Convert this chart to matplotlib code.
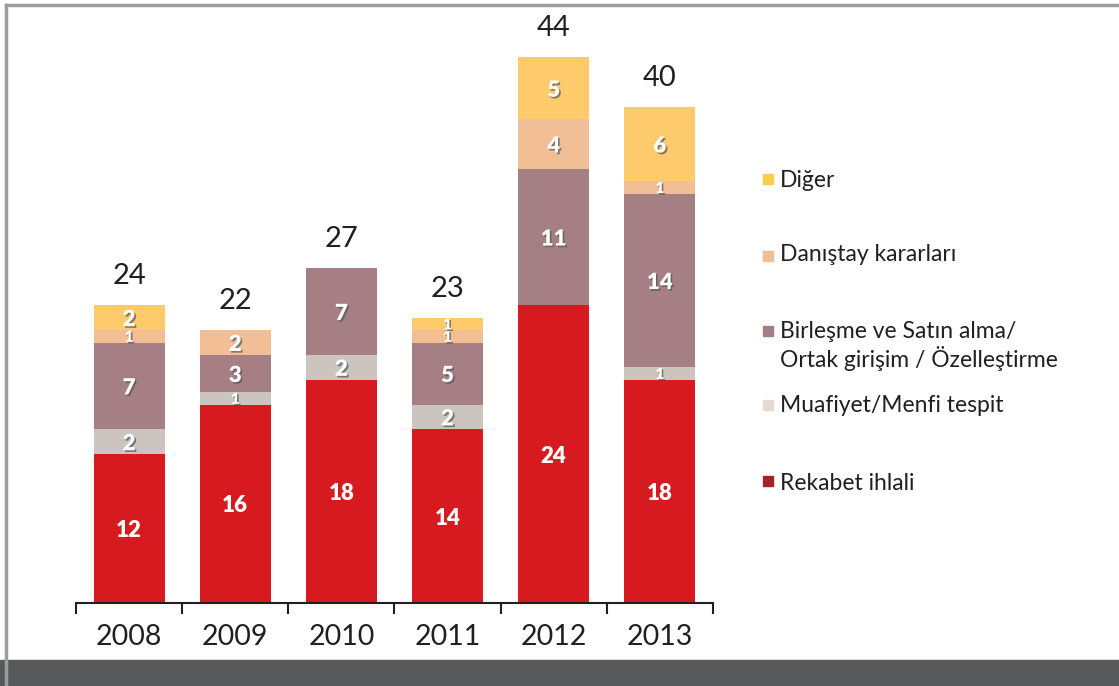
import matplotlib
matplotlib.use("Agg")
import matplotlib.pyplot as plt
import matplotlib.patheffects as pe
from matplotlib.patches import Rectangle
import numpy as np

plt.rcParams['font.family'] = ['Lato', 'DejaVu Sans']

years = ['2008', '2009', '2010', '2011', '2012', '2013']
rekabet = [12, 16, 18, 14, 24, 18]
muafiyet = [2, 1, 2, 2, 0, 1]
birlesme = [7, 3, 7, 5, 11, 14]
danistay = [1, 2, 0, 1, 4, 1]
diger = [2, 0, 0, 1, 5, 6]
totals = [24, 22, 27, 23, 44, 40]

series = [rekabet, muafiyet, birlesme, danistay, diger]
bar_colors = ['#d71920', '#ccc5bf', '#a67f84', '#f2be96', '#fdca6c']

legend_labels = ['Diğer', 'Danıştay kararları',
                 'Birleşme ve Satın alma/\nOrtak girişim / Özelleştirme',
                 'Muafiyet/Menfi tespit', 'Rekabet ihlali']
legend_colors = ['#fcce48', '#f2be95', '#a57e84', '#e2dad3', '#a6222b']

W, H = 1119, 686
fig = plt.figure(figsize=(W / 100, H / 100), dpi=100)

# frame and bottom band
fig.patches.append(Rectangle((0, 0), 1, 26 / H, transform=fig.transFigure,
                             color='#58595b', zorder=0))
fig.add_artist(plt.Line2D([6 / W, 1], [1 - 5 / H, 1 - 5 / H],
                          transform=fig.transFigure, color='#9d9d9f', lw=2.5))
fig.add_artist(plt.Line2D([6 / W, 6 / W], [0, 1 - 5 / H],
                          transform=fig.transFigure, color='#9d9d9f', lw=2.5))

ax = fig.add_axes([76 / W, 83 / H, 637 / W, 583 / H])
x = np.arange(len(years))
bottom = np.zeros(len(years))
for k, (vals, col) in enumerate(zip(series, bar_colors)):
    vals = np.array(vals, dtype=float)
    ax.bar(x, vals, 0.67, bottom=bottom, color=col, zorder=2)
    for i, v in enumerate(vals):
        if v > 0:
            fs = 11 if v == 1 else 16
            t = ax.text(x[i], bottom[i] + v / 2, f'{int(v)}', ha='center',
                        va='center_baseline', color='white', fontsize=fs,
                        fontweight='heavy', zorder=3)
            if k > 0:
                t.set_path_effects([pe.SimplePatchShadow(offset=(1.2, -1.2),
                                                         shadow_rgbFace='#555555', alpha=0.7),
                                    pe.Normal()])
    bottom += vals

for i, tot in enumerate(totals):
    ax.text(x[i], bottom[i] + 1.3, str(tot), ha='center', va='bottom',
            fontsize=21, color='#231f20')

ax.set_xlim(-0.5, len(years) - 0.5)
ax.set_ylim(0, 47)
for s in ['top', 'right', 'left']:
    ax.spines[s].set_visible(False)
ax.spines['bottom'].set_color('#231f20')
ax.spines['bottom'].set_linewidth(1.5)
ax.set_yticks([])
ax.set_xticks(np.arange(-0.5, len(years)))
ax.set_xticklabels([])
ax.tick_params(axis='x', length=8, width=1.5, color='#231f20', direction='out')
for i, y in enumerate(years):
    ax.text(x[i], -2.75, y, ha='center', va='center', fontsize=20.5, color='#231f20')

# legend drawn by hand (pixel positions from the top)
square_y = [179, 256, 331, 405, 481]
text_y = [183, 257, 334, 408, 486]
for lab, col, sy, ty in zip(legend_labels, legend_colors, square_y, text_y):
    fig.patches.append(Rectangle((763 / W, 1 - (sy + 5) / H), 10 / W, 10 / H,
                                 transform=fig.transFigure, color=col))
    fig.text(780 / W, 1 - (ty - 13) / H, lab, ha='left', va='top', fontsize=16.5,
             color='#231f20', linespacing=1.2)

fig.savefig('out.png', dpi=100)
